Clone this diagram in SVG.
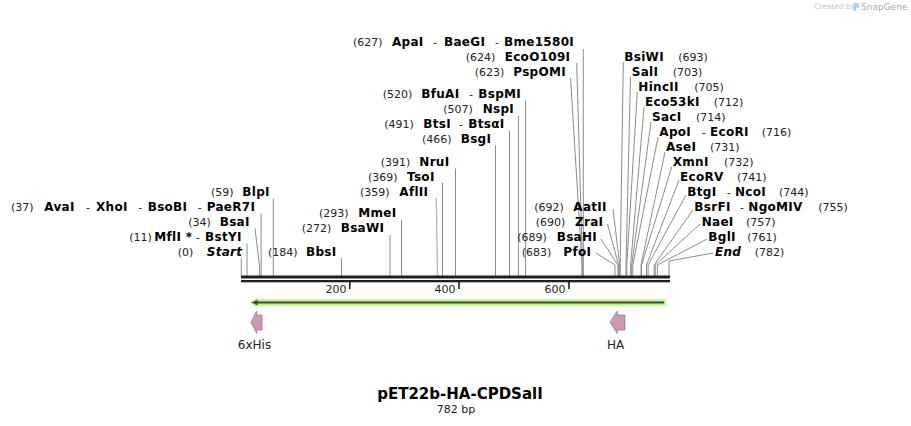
<svg xmlns="http://www.w3.org/2000/svg" width="911" height="426" viewBox="0 0 911 426">
<style>
text{font-family:"DejaVu Sans",Verdana,sans-serif}
.n{font-size:11px;fill:#222}
.b{font-size:12px;font-weight:bold;letter-spacing:0.3px;fill:#000}
.i{font-style:italic}
.c{stroke:#8c8c8c;stroke-width:1;fill:none}
.cl{stroke:#bbbbbb;stroke-width:1.4;fill:none}
.f{font-size:12px;fill:#222;text-anchor:middle}
.tk{font-size:11px;fill:#222;text-anchor:end}
.feat{fill:#cc99b3;stroke:#8f6079;stroke-width:0.6}
</style>
<rect width="911" height="426" fill="#fff"/>

<g id="watermark">
<text x="814" y="9" font-size="7.5" fill="#c4c4c4">Created by</text>
<path d="M853.5,3 h3.5 a2.5,2.5 0 0 1 0,5 h-1 v3 h-2.5 z" fill="#a8d4ee"/>
<text x="861" y="10" font-size="9" fill="#a9a9a9">SnapGene</text>
</g>

<g id="connectors">
<path class="c" d="M241.3,258V276"/>
<path class="c" d="M247,243.5V276"/>
<path class="c" d="M255,228.5L259.4,265V276"/>
<path class="c" d="M261.1,213.5V276"/>
<path class="c" d="M273.3,198.5V276"/>
<path class="c" d="M341.5,258V276"/>
<path class="c" d="M390,235V276"/>
<path class="c" d="M401.5,220V276"/>
<path class="cl" d="M436.3,198L437.4,265V276"/>
<path class="c" d="M442.5,183V276"/>
<path class="c" d="M455.5,168.5V276"/>
<path class="c" d="M495.5,145.5V276"/>
<path class="c" d="M509.5,130.5V276"/>
<path class="c" d="M518.4,115.5V276"/>
<path class="c" d="M525.6,100.5V276"/>
<path class="c" d="M583.3,49V276"/>
<path class="c" d="M576.7,63L582.4,262V276"/>
<path class="c" d="M570.5,78L581.9,262V276"/>
<path class="c" d="M613,209L619.7,265V276"/>
<path class="c" d="M607.5,224L618.6,265V276"/>
<path class="c" d="M601,239L618,265V276"/>
<path class="c" d="M596,253L615,265V276"/>
<path class="c" d="M623.3,62L620.2,265V276"/>
<path class="c" d="M630.5,77L626,265V276"/>
<path class="c" d="M637.3,92L626.8,265V276"/>
<path class="c" d="M644,107L630.6,265V276"/>
<path class="c" d="M651,122L631.7,265V276"/>
<path class="c" d="M658,137L632.8,265V276"/>
<path class="c" d="M665,152L641,265V276"/>
<path class="c" d="M671.7,167L641.6,265V276"/>
<path class="c" d="M679,180L646.5,265V276"/>
<path class="c" d="M686,195L648.1,265V276"/>
<path class="c" d="M693,210L654.1,265V276"/>
<path class="c" d="M700,224L655.3,265V276"/>
<path class="c" d="M707,239L657.4,265V276"/>
<path class="c" d="M713,253L669,261V276"/>
</g>

<g id="sequence">
<rect x="241" y="275.5" width="429" height="3" fill="#1e1e1e"/>
<rect x="241" y="280" width="429" height="2.3" fill="#1e1e1e"/>
<rect x="349" y="282" width="1.6" height="7" fill="#1e1e1e"/>
<rect x="458.2" y="282" width="1.6" height="7" fill="#1e1e1e"/>
<rect x="568.2" y="282" width="1.6" height="7" fill="#1e1e1e"/>
<text class="tk" x="346.5" y="293">200</text>
<text class="tk" x="455.5" y="293">400</text>
<text class="tk" x="565.5" y="293">600</text>
</g>

<g id="orf">
<path d="M666,299.3H258V297.3L249.5,302.5L258,307.7V305.7H666Z" fill="#bdf28c"/>
<path d="M664,302.5H256" stroke="#3d4a3d" stroke-width="2"/>
<path d="M251.5,302.5L257.5,299.8V305.2Z" fill="#3d4a3d"/>
</g>

<g id="feat-6xHis">
<path class="feat" d="M251,322.2L256.7,311V315H262V330H256.7V333.5Z"/>
<text class="f" x="254.5" y="349">6xHis</text>
</g>
<g id="feat-HA">
<path class="feat" d="M610,322.2L617.3,311V315H625V330H617.3V333.5Z"/>
<text class="f" x="615.5" y="349">HA</text>
</g>

<g id="lbl-ApaI"><text class="n" y="46"><tspan x="353">(627)</tspan><tspan class="b" x="392">ApaI</tspan><tspan x="433">-</tspan><tspan class="b" x="444">BaeGI</tspan><tspan x="495">-</tspan><tspan class="b" x="504">Bme1580I</tspan></text></g>
<g id="lbl-EcoO109I"><text class="n" y="61"><tspan x="465.7">(624)</tspan><tspan class="b" x="504.7">EcoO109I</tspan></text></g>
<g id="lbl-PspOMI"><text class="n" y="76"><tspan x="474.7">(623)</tspan><tspan class="b" x="513.3">PspOMI</tspan></text></g>
<g id="lbl-BfuAI"><text class="n" y="98"><tspan x="382.7">(520)</tspan><tspan class="b" x="421.3">BfuAI</tspan><tspan x="469">-</tspan><tspan class="b" x="478.3">BspMI</tspan></text></g>
<g id="lbl-NspI"><text class="n" y="113"><tspan x="443.3">(507)</tspan><tspan class="b" x="482.7">NspI</tspan></text></g>
<g id="lbl-BtsI"><text class="n" y="128"><tspan x="384.3">(491)</tspan><tspan class="b" x="423.3">BtsI</tspan><tspan x="459">-</tspan><tspan class="b" x="468.3">BtsαI</tspan></text></g>
<g id="lbl-BsgI"><text class="n" y="143"><tspan x="422">(466)</tspan><tspan class="b" x="460.7">BsgI</tspan></text></g>
<g id="lbl-NruI"><text class="n" y="166"><tspan x="380.7">(391)</tspan><tspan class="b" x="419.3">NruI</tspan></text></g>
<g id="lbl-TsoI"><text class="n" y="181"><tspan x="368">(369)</tspan><tspan class="b" x="407">TsoI</tspan></text></g>
<g id="lbl-AflII"><text class="n" y="196"><tspan x="360">(359)</tspan><tspan class="b" x="399.3">AflII</tspan></text></g>
<g id="lbl-MmeI"><text class="n" y="217"><tspan x="319">(293)</tspan><tspan class="b" x="358.3">MmeI</tspan></text></g>
<g id="lbl-BsaWI"><text class="n" y="232"><tspan x="301.7">(272)</tspan><tspan class="b" x="340.7">BsaWI</tspan></text></g>
<g id="lbl-BbsI"><text class="n" y="256"><tspan x="268">(184)</tspan><tspan class="b" x="306">BbsI</tspan></text></g>
<g id="lbl-BlpI"><text class="n" y="196"><tspan x="211">(59)</tspan><tspan class="b" x="242.3">BlpI</tspan></text></g>
<g id="lbl-AvaI"><text class="n" y="211"><tspan x="11">(37)</tspan><tspan class="b" x="44.3">AvaI</tspan><tspan x="86">-</tspan><tspan class="b" x="96">XhoI</tspan><tspan x="138.3">-</tspan><tspan class="b" x="147.7">BsoBI</tspan><tspan x="197.7">-</tspan><tspan class="b" x="206.7">PaeR7I</tspan></text></g>
<g id="lbl-BsaI"><text class="n" y="226"><tspan x="188.3">(34)</tspan><tspan class="b" x="219.7">BsaI</tspan></text></g>
<g id="lbl-MflI"><text class="n" y="241"><tspan x="129.3">(11)</tspan><tspan class="b" x="154.3">MflI *</tspan><tspan x="196">-</tspan><tspan class="b" x="205">BstYI</tspan></text></g>
<g id="lbl-Start"><text class="n" y="256"><tspan x="177.7">(0)</tspan><tspan class="b i" x="206.7">Start</tspan></text></g>

<g id="lbl-AatII"><text class="n" y="211"><tspan x="534.3">(692)</tspan><tspan class="b" x="573.3">AatII</tspan></text></g>
<g id="lbl-ZraI"><text class="n" y="226"><tspan x="535.7">(690)</tspan><tspan class="b" x="575">ZraI</tspan></text></g>
<g id="lbl-BsaHI"><text class="n" y="241"><tspan x="517.3">(689)</tspan><tspan class="b" x="556.7">BsaHI</tspan></text></g>
<g id="lbl-PfoI"><text class="n" y="256"><tspan x="521.7">(683)</tspan><tspan class="b" x="563.3">PfoI</tspan></text></g>

<g id="lbl-BsiWI"><text class="n" y="61"><tspan class="b" x="624.3">BsiWI</tspan><tspan x="678.3">(693)</tspan></text></g>
<g id="lbl-SalI"><text class="n" y="76"><tspan class="b" x="631.7">SalI</tspan><tspan x="672.7">(703)</tspan></text></g>
<g id="lbl-HincII"><text class="n" y="91"><tspan class="b" x="638.3">HincII</tspan><tspan x="694.3">(705)</tspan></text></g>
<g id="lbl-Eco53kI"><text class="n" y="106"><tspan class="b" x="645">Eco53kI</tspan><tspan x="713.7">(712)</tspan></text></g>
<g id="lbl-SacI"><text class="n" y="121"><tspan class="b" x="652">SacI</tspan><tspan x="696">(714)</tspan></text></g>
<g id="lbl-ApoI"><text class="n" y="136"><tspan class="b" x="659.3">ApoI</tspan><tspan x="701.7">-</tspan><tspan class="b" x="710">EcoRI</tspan><tspan x="761.7">(716)</tspan></text></g>
<g id="lbl-AseI"><text class="n" y="151"><tspan class="b" x="666">AseI</tspan><tspan x="710">(731)</tspan></text></g>
<g id="lbl-XmnI"><text class="n" y="166"><tspan class="b" x="672.7">XmnI</tspan><tspan x="724">(732)</tspan></text></g>
<g id="lbl-EcoRV"><text class="n" y="181"><tspan class="b" x="680">EcoRV</tspan><tspan x="737">(741)</tspan></text></g>
<g id="lbl-BtgI"><text class="n" y="196"><tspan class="b" x="687.3">BtgI</tspan><tspan x="726.7">-</tspan><tspan class="b" x="735">NcoI</tspan><tspan x="779">(744)</tspan></text></g>
<g id="lbl-BsrFI"><text class="n" y="211"><tspan class="b" x="694.3">BsrFI</tspan><tspan x="740">-</tspan><tspan class="b" x="748.3">NgoMIV</tspan><tspan x="818.3">(755)</tspan></text></g>
<g id="lbl-NaeI"><text class="n" y="226"><tspan class="b" x="701.7">NaeI</tspan><tspan x="746">(757)</tspan></text></g>
<g id="lbl-BglI"><text class="n" y="241"><tspan class="b" x="708.3">BglI</tspan><tspan x="747.3">(761)</tspan></text></g>
<g id="lbl-End"><text class="n" y="256"><tspan class="b i" x="715">End</tspan><tspan x="754.7">(782)</tspan></text></g>

<g id="title">
<text x="460" y="399.3" font-size="15" font-weight="bold" text-anchor="middle" fill="#000">pET22b-HA-CPDSalI</text>
<text x="456" y="413.3" font-size="11" text-anchor="middle" fill="#222">782 bp</text>
</g>
</svg>
